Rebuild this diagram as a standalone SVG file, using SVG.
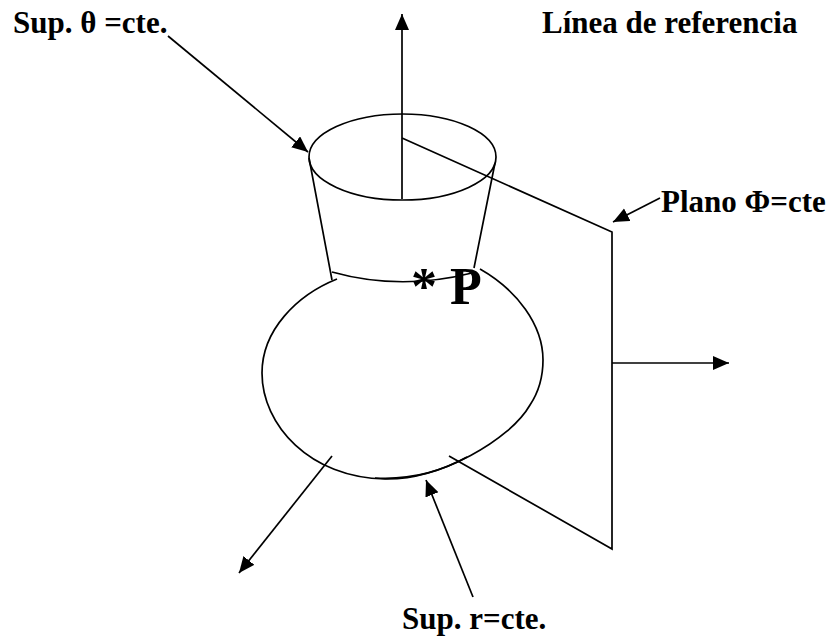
<svg xmlns="http://www.w3.org/2000/svg" width="828" height="636" viewBox="0 0 828 636">
<defs><marker id="a" markerUnits="userSpaceOnUse" markerWidth="18" markerHeight="16" refX="16" refY="7" orient="auto"><path d="M0 0L16 7L0 14Z" fill="#000"/></marker></defs>
<style>.l{fill:none;stroke:#000;stroke-width:1.7}.t{font-family:"Liberation Serif",serif;font-weight:bold;font-size:31px;fill:#000}.p{font-size:52px}</style>
<rect width="828" height="636" fill="#fff"/>
<g id="connectors">
<path class="l" d="M402 199V14" marker-end="url(#a)"/>
<path class="l" d="M168 36L308 152" marker-end="url(#a)"/>
<path class="l" d="M402 138L612 232V549L449 456"/>
<path class="l" d="M612 363H729" marker-end="url(#a)"/>
<path class="l" d="M660 198L613 222" marker-end="url(#a)"/>
<path class="l" d="M332 456L239 573" marker-end="url(#a)"/>
<path class="l" d="M473 597L426 480" marker-end="url(#a)"/>
</g>
<g id="cone"><ellipse class="l" cx="402.500" cy="157" rx="93.500" ry="43"/><path class="l" d="M309 158L332 280M495 163L474 268M332 272Q400 291 472 273"/></g>
<g id="sphere"><path class="l" d="M337 279C297 295 262 330 262 373C262 425 310 478 385 479C440 480 510 440 530 405C540 390 543 375 543 360C543 325 517 290 480 269"/><path class="l" d="M375 478C410 480 440 472 467 457"/></g>
<g id="labels">
<text class="t" x="13" y="33">Sup. θ =cte.</text>
<text class="t" x="542" y="33">Línea de referencia</text>
<text class="t" x="661" y="212">Plano Φ=cte</text>
<text class="t" x="402" y="629">Sup. r=cte.</text>
<text class="t p" x="411" y="304">* P</text>
</g>
</svg>
